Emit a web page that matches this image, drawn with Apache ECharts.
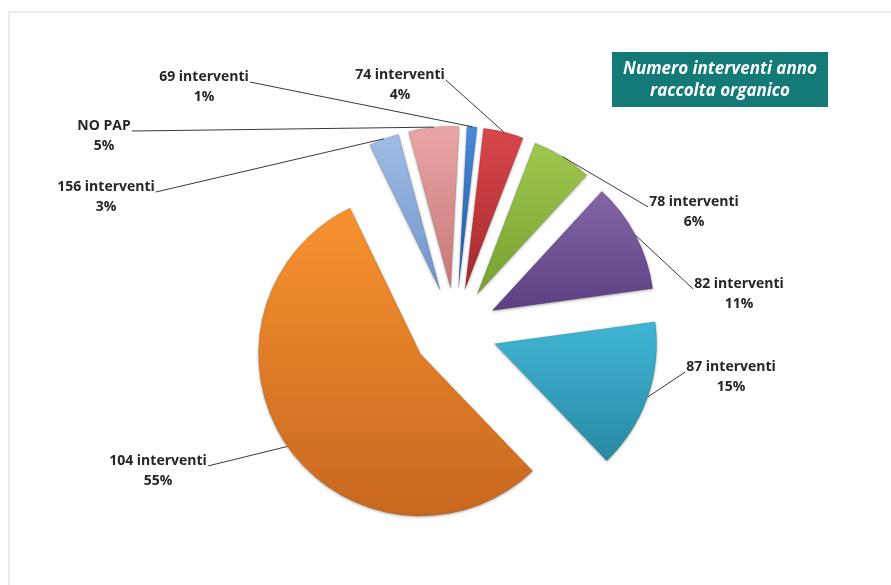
<!DOCTYPE html>
<html>
<head>
<meta charset="utf-8">
<script src="https://cdn.jsdelivr.net/npm/echarts@6/dist/echarts.min.js"></script>
<style>
  html, body { margin: 0; padding: 0; background: #ffffff; }
  #chart { width: 891px; height: 585px; }
</style>
</head>
<body>
<div id="chart"></div>
<script>
// Slice names and shares (percent), clockwise from the top
const categories = ['69 interventi', '74 interventi', '78 interventi', '82 interventi',
                    '87 interventi', '104 interventi', '156 interventi', 'NO PAP'];
const shares = [1, 4, 6, 11, 15, 55, 3, 5];

// Fill colours per slice: [light top, darker bottom]
const sliceColors = [
  ['#4a8ad8', '#1f59a6'],
  ['#d8474a', '#a52a2c'],
  ['#a0c850', '#76a030'],
  ['#8567a8', '#5c3f82'],
  ['#40b6d4', '#2889a4'],
  ['#f8922f', '#c8671f'],
  ['#a0bce6', '#6f93c8'],
  ['#eaa6a5', '#c57876']
];

// Label placement: [centre x, first-line centre y] in px
const labelSpots = [
  [204, 77], [400, 75], [694, 202], [739, 284],
  [731, 367], [158, 461], [106, 187], [104, 126]
];

const LABEL_FONT = 'bold 14px "Open Sans", Lato, sans-serif';
const LABEL_LINE_GAP = 20;
const EXPLODE = 42;

const chart = echarts.init(document.getElementById('chart'), null, { renderer: 'canvas' });

const data = categories.map((name, i) => ({
  name: name,
  value: shares[i],
  selected: true,
  itemStyle: {
    color: new echarts.graphic.LinearGradient(0, 0, 0, 1, [
      { offset: 0, color: sliceColors[i][0] },
      { offset: 1, color: sliceColors[i][1] }
    ])
  }
}));

const frameAndTitle = [
  {
    type: 'rect',
    shape: { x: 9, y: 12, width: 900, height: 600 },
    style: { fill: 'none', stroke: '#ececec', lineWidth: 2 },
    silent: true
  },
  {
    type: 'group',
    left: 612,
    top: 52,
    children: [
      {
        type: 'rect',
        shape: { x: 0, y: 0, width: 216, height: 55 },
        style: { fill: '#137a78' }
      },
      {
        type: 'text',
        x: 108,
        y: 28,
        style: {
          text: 'Numero interventi anno\nraccolta organico',
          fill: '#ffffff',
          font: 'italic bold 17px "Open Sans", Lato, sans-serif',
          align: 'center',
          verticalAlign: 'middle',
          lineHeight: 22
        }
      }
    ]
  }
];

chart.setOption({
  animation: false,
  backgroundColor: '#ffffff',
  graphic: frameAndTitle,
  series: [
    {
      type: 'pie',
      center: [455, 330],
      radius: 162,
      startAngle: 87,
      clockwise: true,
      selectedMode: 'multiple',
      selectedOffset: EXPLODE,
      avoidLabelOverlap: false,
      emphasis: { disabled: true },
      select: { itemStyle: {} },
      itemStyle: {
        borderColor: 'rgba(0,0,0,0.15)',
        borderWidth: 0.6,
        shadowBlur: 3,
        shadowColor: 'rgba(0,0,0,0.35)',
        shadowOffsetY: 1
      },
      label: { show: false },
      labelLine: { show: false },
      data: data
    }
  ]
});

// Data labels with leader lines running to the middle of each slice's arc
const measureCtx = document.createElement('canvas').getContext('2d');
measureCtx.font = LABEL_FONT;
const seriesData = chart.getModel().getSeriesByIndex(0).getData();
const labelGraphics = [];
categories.forEach((name, i) => {
  const lay = seriesData.getItemLayout(i);
  const mid = (lay.startAngle + lay.endAngle) / 2;
  const dist = lay.r + EXPLODE;
  const ax = lay.cx + Math.cos(mid) * dist;
  const ay = lay.cy + Math.sin(mid) * dist;
  const [lx, ly] = labelSpots[i];
  const halfW = measureCtx.measureText(name).width / 2;
  const startX = lx < ax ? lx + halfW + 1 : lx - halfW - 1;
  const startY = ly + 5;
  labelGraphics.push({
    type: 'line',
    shape: { x1: startX, y1: startY, x2: ax, y2: ay },
    style: { stroke: '#3a3a3a', lineWidth: 1 },
    silent: true,
    z: 10
  });
  labelGraphics.push({
    type: 'text',
    x: lx,
    y: ly,
    style: {
      text: name + '\n' + shares[i] + '%',
      fill: '#262626',
      font: LABEL_FONT,
      align: 'center',
      verticalAlign: 'top',
      lineHeight: LABEL_LINE_GAP,
      y: -LABEL_LINE_GAP / 2
    },
    silent: true,
    z: 11
  });
});

chart.setOption({ graphic: frameAndTitle.concat(labelGraphics) });
</script>
</body>
</html>
